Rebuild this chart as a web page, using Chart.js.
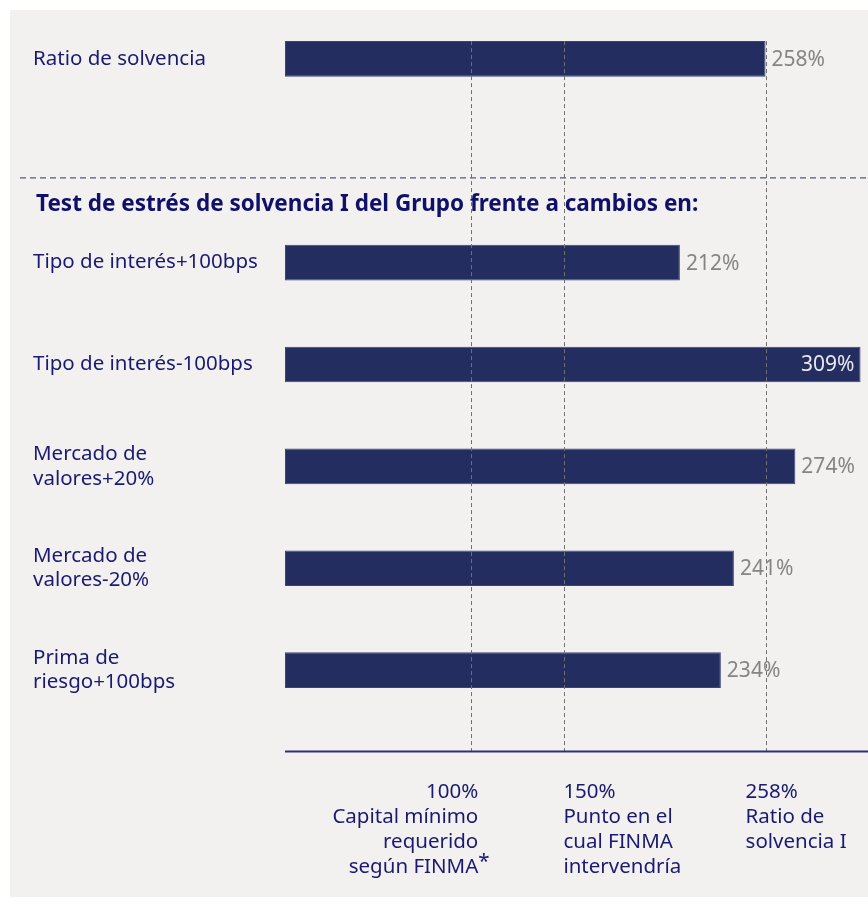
<!DOCTYPE html>
<html>
<head>
<meta charset="utf-8">
<script src="https://cdn.jsdelivr.net/npm/chart.js@4"></script>
<style>
  html, body { margin: 0; padding: 0; background: #ffffff; }
  #wrap { width: 868px; height: 905px; position: relative; }
</style>
</head>
<body>
<div id="wrap"><canvas id="solvencyChart"></canvas></div>
<script>
// Solvency ratio + stress test bars

const categories = [
  'Ratio de solvencia',
  '',
  'Tipo de interés+100bps',
  'Tipo de interés-100bps',
  ['Mercado de', 'valores+20%'],
  ['Mercado de', 'valores-20%'],
  ['Prima de', 'riesgo+100bps']
];
const ratios = [258, null, 212, 309, 274, 241, 234];

const sectionTitle = 'Test de estrés de solvencia I del Grupo frente a cambios en:';

// reference lines and their captions under the axis
const refValues = [100, 150, 258];
const refCaptions = [
  ['100%', 'Capital mínimo', 'requerido', 'según FINMA*'],
  ['150%', 'Punto en el', 'cual FINMA', 'intervendría'],
  ['258%', 'Ratio de', 'solvencia I']
];

const NAVY = '#1a1a72';
const BAR = '#232d5f';
const FONT = '"Noto Sans", "Open Sans", sans-serif';

const decorPlugin = {
  id: 'decor',
  beforeDraw(chart) {
    const ctx = chart.ctx;
    ctx.save();
    ctx.fillStyle = '#ffffff';
    ctx.fillRect(0, 0, chart.width, chart.height);
    ctx.fillStyle = '#f2f1f0';
    ctx.fillRect(10, 10, chart.width - 10, chart.height - 18);
    ctx.restore();
  },
  afterDatasetsDraw(chart) {
    const ctx = chart.ctx;
    const x = chart.scales.x, y = chart.scales.y;
    const meta = chart.getDatasetMeta(0);
    const axisY = y.getPixelForValue(6.8);
    const topY = meta.data[0].y - meta.data[0].height / 2;

    ctx.save();
    // separator + section title
    const sepY = y.getPixelForValue(1) + 17;
    ctx.strokeStyle = '#4f5685';
    ctx.lineWidth = 1.3;
    ctx.setLineDash([6, 4]);
    ctx.beginPath();
    ctx.moveTo(20, sepY);
    ctx.lineTo(chart.width, sepY);
    ctx.stroke();

    ctx.setLineDash([]);
    ctx.fillStyle = '#10106a';
    ctx.font = 'bold 22.5px ' + FONT;
    ctx.textAlign = 'left';
    ctx.textBaseline = 'middle';
    ctx.fillText(sectionTitle, 36, y.getPixelForValue(1) + 44);

    // vertical reference lines
    ctx.strokeStyle = '#707070';
    ctx.lineWidth = 1;
    ctx.setLineDash([4, 3]);
    refValues.forEach(v => {
      const px = Math.round(x.getPixelForValue(v)) + 0.5;
      ctx.beginPath();
      ctx.moveTo(px, topY);
      ctx.lineTo(px, axisY);
      ctx.stroke();
    });

    // axis line
    ctx.setLineDash([]);
    ctx.strokeStyle = '#2a3470';
    ctx.lineWidth = 2;
    ctx.beginPath();
    ctx.moveTo(x.left, axisY);
    ctx.lineTo(x.right, axisY);
    ctx.stroke();

    // value labels
    ctx.font = '21px ' + FONT;
    ctx.textBaseline = 'middle';
    meta.data.forEach((bar, i) => {
      const v = ratios[i];
      if (v == null) return;
      const txt = v + '%';
      const w = ctx.measureText(txt).width;
      if (bar.x + 6 + w > chart.chartArea.right) {
        ctx.fillStyle = '#e8e8ee';
        ctx.textAlign = 'right';
        ctx.fillText(txt, bar.x - 6, bar.y + 1);
      } else {
        ctx.fillStyle = '#858585';
        ctx.textAlign = 'left';
        ctx.fillText(txt, bar.x + 6, bar.y + 1);
      }
    });

    // captions under the axis
    const align = ['right', 'left', 'left'];
    const shift = [7, -1, -20];
    ctx.fillStyle = NAVY;
    ctx.font = '20.5px ' + FONT;
    refCaptions.forEach((lines, k) => {
      const px = x.getPixelForValue(refValues[k]) + shift[k];
      ctx.textAlign = align[k];
      lines.forEach((line, j) => {
        const ly = axisY + 41 + j * 24.8;
        if (line.endsWith('*')) {
          ctx.fillText(line.slice(0, -1), px, ly);
          ctx.textAlign = 'left';
          ctx.fillText('*', px, ly - 5);
          ctx.textAlign = align[k];
        } else {
          ctx.fillText(line, px, ly);
        }
      });
    });
    ctx.restore();
  }
};

new Chart(document.getElementById('solvencyChart'), {
  type: 'bar',
  data: {
    labels: categories,
    datasets: [{
      data: ratios,
      backgroundColor: BAR,
      borderColor: '#3a4478',
      borderWidth: 1,
      borderSkipped: false,
      barPercentage: 0.35,
      categoryPercentage: 1
    }]
  },
  options: {
    indexAxis: 'y',
    responsive: true,
    maintainAspectRatio: false,
    animation: false,
    layout: { padding: { left: 33, top: 8, right: 0, bottom: 184 } },
    plugins: { legend: { display: false }, tooltip: { enabled: false } },
    scales: {
      x: { display: false, min: 0, max: 313 },
      y: {
        grid: { display: false, drawTicks: false },
        border: { display: false },
        afterFit(scale) {
          scale.width = 252;
          scale.paddingTop = 0;
          scale.paddingBottom = 0;
        },
        ticks: {
          crossAlign: 'far',
          padding: 0,
          color: NAVY,
          font: { family: FONT, size: 20.5, lineHeight: 1.2 }
        }
      }
    }
  },
  plugins: [decorPlugin]
});
</script>
</body>
</html>
